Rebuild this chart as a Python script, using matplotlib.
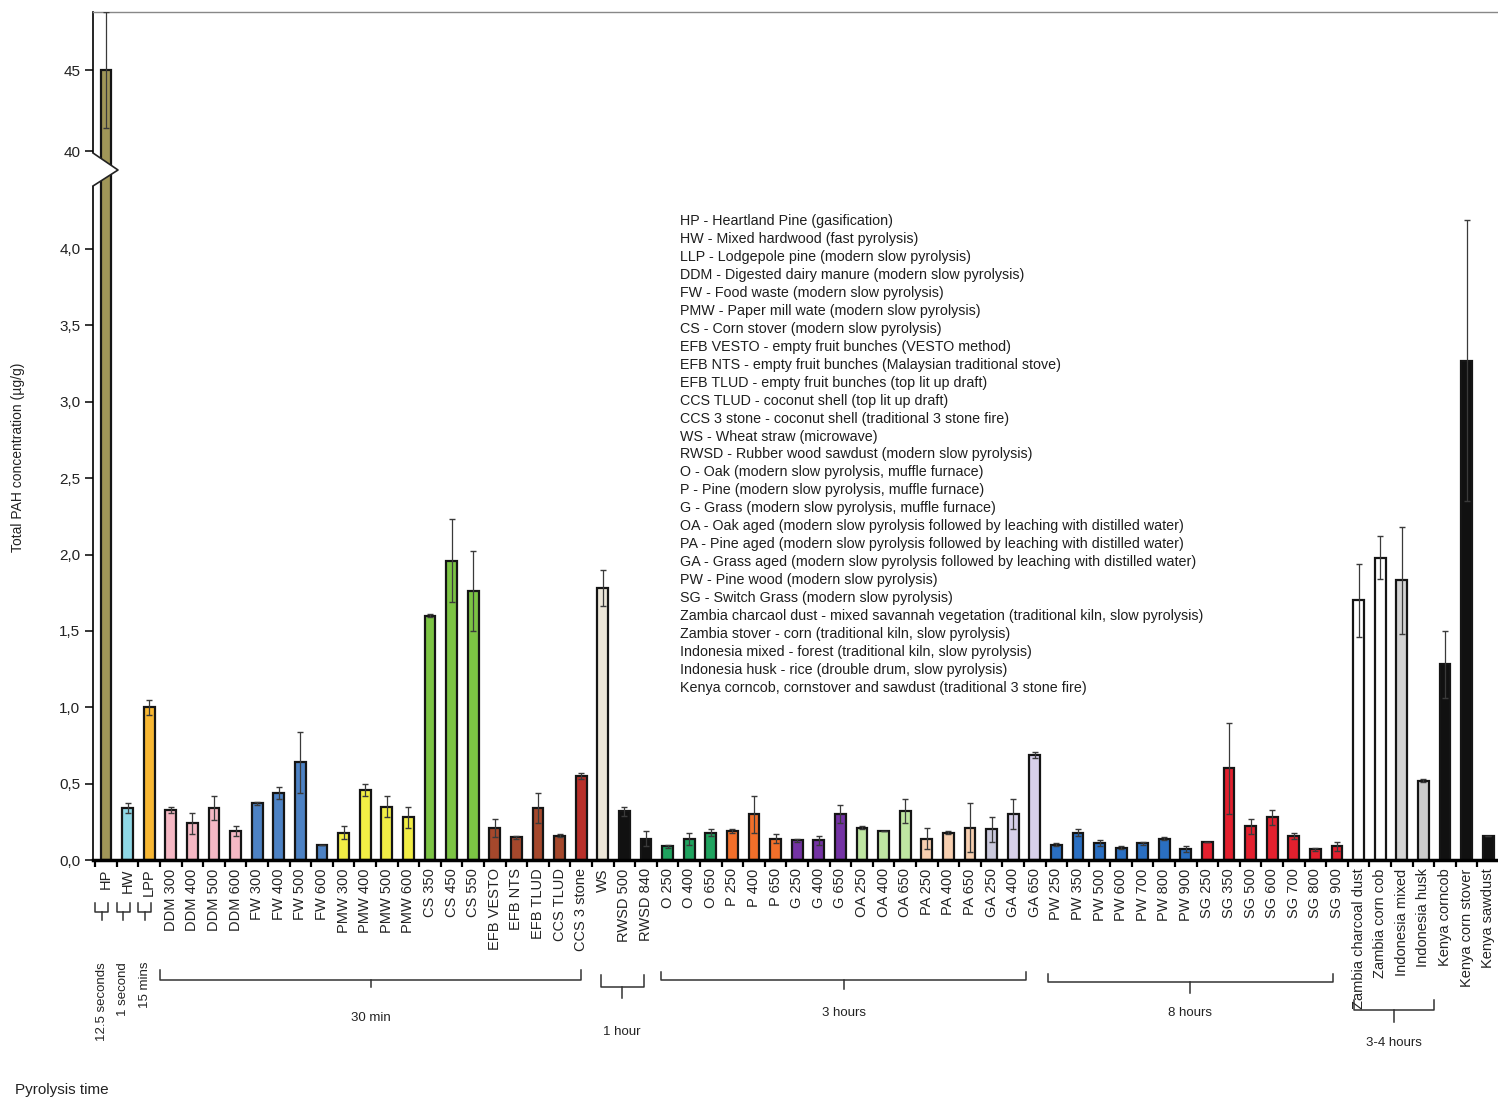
import matplotlib
matplotlib.use("Agg")
import matplotlib.pyplot as plt
import matplotlib.transforms as mtransforms
from matplotlib.patches import Polygon
from matplotlib.lines import Line2D
from matplotlib.ticker import FixedLocator, FuncFormatter

plt.rcParams['font.family'] = ['Liberation Sans', 'DejaVu Sans']

# ---------------- data ----------------
labels = ["HP", "HW", "LPP",
          "DDM 300", "DDM 400", "DDM 500", "DDM 600",
          "FW 300", "FW 400", "FW 500", "FW 600",
          "PMW 300", "PMW 400", "PMW 500", "PMW 600",
          "CS 350", "CS 450", "CS 550",
          "EFB VESTO", "EFB NTS", "EFB TLUD", "CCS TLUD", "CCS 3 stone",
          "WS", "RWSD 500", "RWSD 840",
          "O 250", "O 400", "O 650", "P 250", "P 400", "P 650",
          "G 250", "G 400", "G 650", "OA 250", "OA 400", "OA 650",
          "PA 250", "PA 400", "PA 650", "GA 250", "GA 400", "GA 650",
          "PW 250", "PW 350", "PW 500", "PW 600", "PW 700", "PW 800", "PW 900",
          "SG 250", "SG 350", "SG 500", "SG 600", "SG 700", "SG 800", "SG 900",
          "Zambia charcoal dust", "Zambia corn cob", "Indonesia mixed",
          "Indonesia husk", "Kenya corncob", "Kenya corn stover", "Kenya sawdust"]

values = [45.0, 0.34, 1.00,
          0.33, 0.24, 0.34, 0.19,
          0.37, 0.44, 0.64, 0.10,
          0.18, 0.46, 0.35, 0.28,
          1.60, 1.96, 1.76,
          0.21, 0.15, 0.34, 0.16, 0.55,
          1.78, 0.32, 0.14,
          0.09, 0.14, 0.18, 0.19, 0.30, 0.14,
          0.13, 0.13, 0.30, 0.21, 0.19, 0.32,
          0.14, 0.18, 0.21, 0.20, 0.30, 0.69,
          0.10, 0.18, 0.11, 0.08, 0.11, 0.14, 0.07,
          0.12, 0.60, 0.22, 0.28, 0.16, 0.07, 0.09,
          1.70, 1.98, 1.83, 0.52, 1.28, 3.27, 0.16]

errors = [3.6, 0.03, 0.05,
          0.02, 0.07, 0.08, 0.03,
          0.01, 0.04, 0.20, 0.0,
          0.04, 0.04, 0.07, 0.07,
          0.01, 0.27, 0.26,
          0.06, 0.01, 0.10, 0.01, 0.02,
          0.12, 0.03, 0.05,
          0.01, 0.04, 0.02, 0.01, 0.12, 0.03,
          0.01, 0.03, 0.06, 0.01, 0.0, 0.08,
          0.07, 0.01, 0.16, 0.08, 0.10, 0.02,
          0.01, 0.02, 0.02, 0.01, 0.01, 0.01, 0.02,
          0.0, 0.30, 0.05, 0.05, 0.02, 0.01, 0.03,
          0.24, 0.14, 0.35, 0.01, 0.22, 0.92, 0.0]

colors = ["#a09658", "#8fd8e6", "#f7b733",
          "#f5b8c4", "#f5b8c4", "#f5b8c4", "#f5b8c4",
          "#4d82c4", "#4d82c4", "#4d82c4", "#4d82c4",
          "#f2ee45", "#f2ee45", "#f2ee45", "#f2ee45",
          "#7cc444", "#7cc444", "#7cc444",
          "#a5482c", "#a5482c", "#a5482c", "#a5482c", "#b8302a",
          "#ece6d8", "#111111", "#111111",
          "#1fa35f", "#1fa35f", "#1fa35f", "#f26f2a", "#f26f2a", "#f26f2a",
          "#7433a4", "#7433a4", "#7433a4", "#bfe6a2", "#bfe6a2", "#bfe6a2",
          "#f7cfb0", "#f7cfb0", "#f7cfb0", "#c9c8dc", "#d7d0ea", "#d7d0ea",
          "#2a6fc2", "#2a6fc2", "#2a6fc2", "#2a6fc2", "#2a6fc2", "#2a6fc2", "#2a6fc2",
          "#e3202e", "#e3202e", "#e3202e", "#e3202e", "#e3202e", "#e3202e", "#e3202e",
          "#ffffff", "#ffffff", "#d4d4d4", "#cccccc", "#111111", "#111111", "#111111"]

legend_lines = [
    "HP - Heartland Pine (gasification)",
    "HW - Mixed hardwood (fast pyrolysis)",
    "LLP - Lodgepole pine (modern slow pyrolysis)",
    "DDM - Digested dairy manure (modern slow pyrolysis)",
    "FW - Food waste (modern slow pyrolysis)",
    "PMW - Paper mill wate (modern slow pyrolysis)",
    "CS - Corn stover (modern slow pyrolysis)",
    "EFB VESTO - empty fruit bunches (VESTO method)",
    "EFB NTS - empty fruit bunches (Malaysian traditional stove)",
    "EFB TLUD - empty fruit bunches (top lit up draft)",
    "CCS TLUD - coconut shell (top lit up draft)",
    "CCS 3 stone - coconut shell (traditional 3 stone fire)",
    "WS - Wheat straw (microwave)",
    "RWSD - Rubber wood sawdust (modern slow pyrolysis)",
    "O - Oak (modern slow pyrolysis, muffle furnace)",
    "P - Pine (modern slow pyrolysis, muffle furnace)",
    "G - Grass (modern slow pyrolysis, muffle furnace)",
    "OA - Oak aged (modern slow pyrolysis followed by leaching with distilled water)",
    "PA - Pine aged (modern slow pyrolysis followed by leaching with distilled water)",
    "GA - Grass aged (modern slow pyrolysis followed by leaching with distilled water)",
    "PW - Pine wood (modern slow pyrolysis)",
    "SG - Switch Grass (modern slow pyrolysis)",
    "Zambia charcaol dust - mixed savannah vegetation (traditional kiln, slow pyrolysis)",
    "Zambia stover - corn (traditional kiln, slow pyrolysis)",
    "Indonesia mixed - forest (traditional kiln, slow pyrolysis)",
    "Indonesia husk - rice (drouble drum, slow pyrolysis)",
    "Kenya corncob, cornstover and sawdust (traditional 3 stone fire)",
]

# pyrolysis-time groups: (label, bracket start, bracket end) in bar-index units
time_groups = [("30 min", 2.5, 22.0), ("1 hour", 22.9, 24.9), ("3 hours", 25.7, 42.6),
               ("8 hours", 43.6, 56.8), ("3-4 hours", 57.8, 61.5)]
short_groups = [("12.5 seconds", 0), ("1 second", 1), ("15 mins", 2)]

# ---------------- figure ----------------
W, H = 1498, 1103
fig = plt.figure(figsize=(W / 100, H / 100), dpi=100)

def fy(py):
    return 1 - py / H

x_left, x_right = 93, 1498
y_lo_bot, y_break, y_up_top = 860, 170, 12
ax = fig.add_axes([x_left / W, fy(y_lo_bot), (x_right - x_left) / W, (y_lo_bot - y_break) / H])
axu = fig.add_axes([x_left / W, fy(y_break), (x_right - x_left) / W, (y_break - y_up_top) / H])

x = list(range(len(labels)))
for a in (ax, axu):
    a.bar(x, values, width=0.5, color=colors, edgecolor="#151515", linewidth=1.6, zorder=2)
    a.errorbar(x, values, yerr=errors, fmt="none", ecolor="#3a3a3a", elinewidth=0.9,
               capsize=2.2, capthick=1.0, zorder=3)
    a.set_xlim(-0.6, 64.45)
    a.spines["right"].set_visible(False)

ax.set_ylim(0, (y_lo_bot - y_break) / 152.75)
axu.set_ylim(40 - (y_break - 151) / 16.2, 45 + (70 - y_up_top) / 16.2)

# lower axis formatting
ax.spines["top"].set_visible(False)
ax.spines["bottom"].set_linewidth(2.5)
ax.spines["left"].set_linewidth(1.2)
ax.set_yticks([0, 0.5, 1.0, 1.5, 2.0, 2.5, 3.0, 3.5, 4.0])
ax.yaxis.set_major_formatter(FuncFormatter(lambda v, p: f"{v:.1f}".replace(".", ",")))
ax.tick_params(axis="y", length=6, width=1.1, labelsize=11, pad=3, labelcolor="#222222")
ax.set_xticks(x)
ax.set_xticklabels(labels, rotation=90, fontsize=10.5, color="#222222")
ax.tick_params(axis="x", which="major", length=0, pad=6)
ax.xaxis.set_minor_locator(FixedLocator([i + 0.5 for i in range(-1, len(labels))]))
ax.tick_params(axis="x", which="minor", length=5, width=1.6, direction="out")

# upper axis formatting
axu.spines["bottom"].set_visible(False)
axu.spines["top"].set_color("#888888")
axu.spines["top"].set_linewidth(1.0)
axu.spines["left"].set_linewidth(1.2)
axu.set_yticks([40, 45])
axu.tick_params(axis="y", length=6, width=1.1, labelsize=11, pad=3, labelcolor="#222222")
axu.set_xticks([])

# axis break (zigzag)
def P(px, py):
    return (px / W, fy(py))
fig.patches.append(Polygon([P(88, 153), P(93, 153), P(118, 170), P(93, 186), P(88, 186)],
                           closed=True, facecolor="white", edgecolor="none",
                           transform=fig.transFigure, zorder=10))
fig.lines.append(Line2D([93 / W, 118 / W, 93 / W], [fy(153), fy(170), fy(186)],
                        color="#222222", lw=1.2, transform=fig.transFigure, zorder=11))

# y label
fig.text(18 / W, fy(457), "Total PAH concentration (µg/g)", rotation=90,
         ha="center", va="center", fontsize=10, color="#222222")

# legend text block
for i, line in enumerate(legend_lines):
    fig.text(680 / W, fy(221 + i * 17.96), line, ha="left", va="center", fontsize=10.3,
             color="#1e1e1e")

# brackets
trans = mtransforms.blended_transform_factory(ax.transData, fig.transFigure)

def bracket(x0, x1, ytop, ybot, ystem, lw=1.1):
    xm = (x0 + x1) / 2
    fig.lines.append(Line2D([x0, x0, x1, x1], [fy(ytop), fy(ybot), fy(ybot), fy(ytop)],
                            color="#333333", lw=lw, transform=trans))
    fig.lines.append(Line2D([xm, xm], [fy(ybot), fy(ystem)], color="#333333", lw=lw,
                            transform=trans))
    return xm

group_y = {"30 min": (970, 980, 987, 1018), "1 hour": (975, 987, 998, 1032),
           "3 hours": (972, 980, 989, 1013), "8 hours": (974, 982, 993, 1013),
           "3-4 hours": (1000, 1010, 1022, 1043)}
for name, s0, s1 in time_groups:
    ytop, ybot, ystem, ytext = group_y[name]
    xm = bracket(s0, s1, ytop, ybot, ystem)
    fig.text(xm, fy(ytext), name, transform=trans, ha="center", va="center", fontsize=9.5,
             color="#222222")

for name, i in short_groups:
    xm = bracket(i - 0.5, i + 0.1, 903, 912, 920)
    fig.text(xm, fy(962), name, transform=trans, rotation=90, ha="center", va="top",
             fontsize=9.5, color="#222222")

fig.text(15 / W, fy(1090), "Pyrolysis time", ha="left", va="center", fontsize=11,
         color="#222222")

fig.savefig("out.png", dpi=100, facecolor="white")
